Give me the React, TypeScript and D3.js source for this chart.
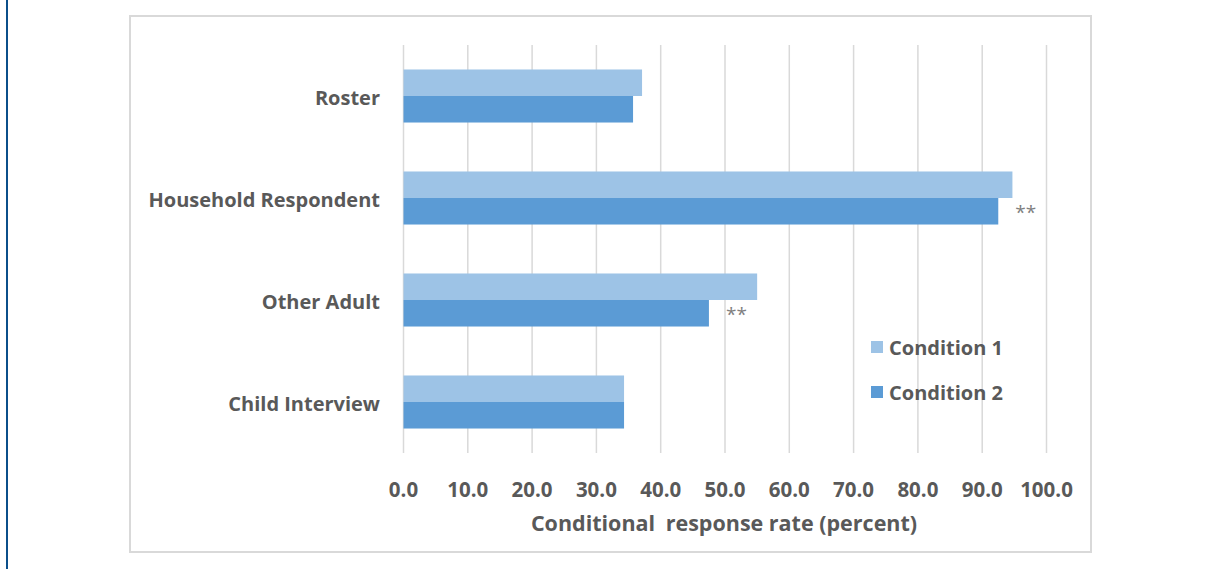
import React from "react";
import * as d3 from "d3";

const categories = ["Roster", "Household Respondent", "Other Adult", "Child Interview"];
const seriesNames = ["Condition 1", "Condition 2"];
const condition1 = [37.1, 94.7, 55.0, 34.3];
const condition2 = [35.7, 92.5, 47.5, 34.3];
const significance = ["", "**", "**", ""];
const xTicks = [0, 10, 20, 30, 40, 50, 60, 70, 80, 90, 100];
const colors = ["#9dc3e6", "#5b9bd5"];

const W = 1206;
const H = 569;
const plot = { left: 403.5, right: 1046.5, top: 45, bottom: 453 };
const FONT = "'Open Sans', sans-serif";
const TEXT = "#595959";

export default function App() {
  const x = d3.scaleLinear().domain([0, 100]).range([plot.left, plot.right]);
  const y = d3.scaleBand<string>().domain(categories).range([plot.top, plot.bottom]).paddingInner(0.48).paddingOuter(0.24);
  const sub = d3.scaleBand<string>().domain(seriesNames).range([0, y.bandwidth()]);
  const series = [condition1, condition2];

  return (
    <svg width={W} height={H} style={{ position: "absolute", left: 0, top: 0, background: "#fff" }}>
      <rect x={6} y={0} width={2} height={H} fill="#0b4f8a" />
      <rect x={130} y={16} width={961} height={536} fill="#fff" stroke="#d9d9d9" strokeWidth={2} />
      {xTicks.map((t) => (
        <line key={t} x1={x(t)} x2={x(t)} y1={plot.top} y2={plot.bottom} stroke="#d9d9d9" strokeWidth={1.5} />
      ))}
      {categories.map((c, i) => (
        <g key={c}>
          {series.map((s, k) => (
            <rect
              key={k}
              x={x(0)}
              y={(y(c) as number) + (sub(seriesNames[k]) as number)}
              width={x(s[i]) - x(0)}
              height={sub.bandwidth()}
              fill={colors[k]}
            />
          ))}
          <text
            x={380}
            y={(y(c) as number) + y.bandwidth() / 2 + 1.5}
            dy="0.35em"
            textAnchor="end"
            fontFamily={FONT}
            fontWeight="bold"
            fontSize={20}
            fill={TEXT}
          >
            {c}
          </text>
          {significance[i] && (
            <text
              x={x(condition2[i]) + 17}
              y={(y(c) as number) + (sub(seriesNames[1]) as number) + sub.bandwidth() / 2 + 8}
              fontFamily={FONT}
              fontSize={19}
              fill="#7f7f7f"
            >
              {significance[i]}
            </text>
          )}
        </g>
      ))}
      {xTicks.map((t) => (
        <text key={t} x={x(t)} y={497} textAnchor="middle" fontFamily={FONT} fontWeight="bold" fontSize={20.5} fill={TEXT}>
          {t.toFixed(1)}
        </text>
      ))}
      <text x={724} y={530.5} textAnchor="middle" fontFamily={FONT} fontWeight="bold" fontSize={21.5} fill={TEXT}>
        Conditional<tspan dx={5}> response rate (percent)</tspan>
      </text>
      {seriesNames.map((n, k) => (
        <g key={n}>
          <rect x={871} y={341 + k * 45} width={12} height={12} fill={colors[k]} />
          <text x={889} y={348 + k * 45} dy="0.35em" fontFamily={FONT} fontWeight="bold" fontSize={20} fill={TEXT}>
            {n}
          </text>
        </g>
      ))}
    </svg>
  );
}
